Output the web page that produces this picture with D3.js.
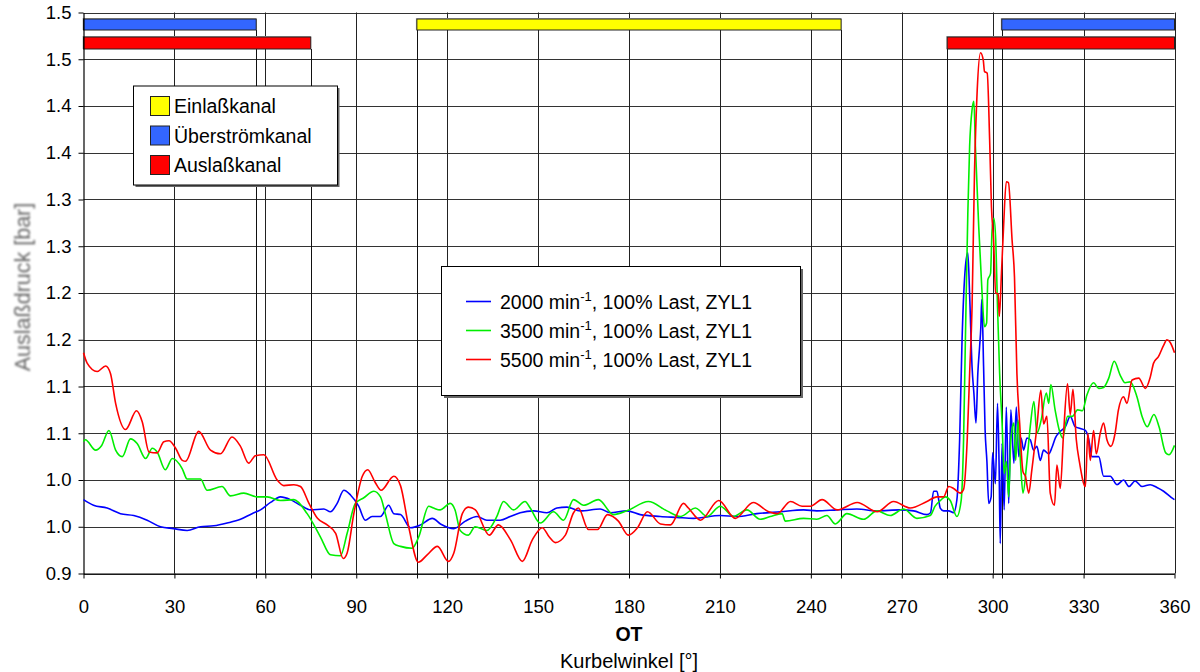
<!DOCTYPE html>
<html>
<head>
<meta charset="utf-8">
<script src="https://cdn.jsdelivr.net/npm/d3@7"></script>
<style>
  body { margin: 0; background: #fff; }
  text { font-family: "Liberation Sans", Arial, sans-serif; }
</style>
</head>
<body>
<svg id="chart" width="1200" height="672"></svg>
<script>
// Kurbelwinkel [°] und Auslaßdruck [bar] je Drehzahl
const kw2000 = [0, 3.3, 7.8, 12.2, 16.6, 21, 25.4, 29.7, 34.2, 38.6, 43, 47.4, 51.8, 55.6, 58.4, 61.7, 65, 68.3, 71.6, 74.9,
  79.3, 81.5, 83.7, 85.9, 88.1, 90.8, 93, 95.2, 98, 100.7, 102.4, 104.6, 107.9, 111.2, 115.1, 117.8, 122.2, 126, 129.9, 133.1,
  137.5, 140.8, 144.1, 148.5, 152.9, 156.2, 159.5, 163.9, 170.5, 173.8, 179.3, 183.7, 190.3, 195.8, 201.3, 210.1, 215.6, 222.2,
  229.9, 237.6, 242, 248.6, 255.2, 261.8, 269.5, 273.9, 278.3, 279.5, 280.5, 281.6, 282.7, 283.8, 285.5, 287.1, 288.2, 289.1,
  289.9, 291, 291.8, 292.4, 293.2, 293.8, 294.5, 295.1, 295.7, 296.1, 296.4, 297, 297.5, 298.1, 298.7, 299.5, 300, 300.9, 301.6,
  302.1, 302.5, 303.1, 303.8, 304.5, 305.3, 306, 307, 307.8, 308.6, 309.4, 310.2, 311.3, 312.4, 313.5, 314.6, 315.7, 316.8,
  318.5, 319.6, 320.7, 322.3, 324, 325.6, 327.2, 328.9, 330.6, 331.6, 332.8, 335, 336.6, 338.8, 341, 343.2, 345, 347, 349.3,
  352, 354.2, 356.4, 359.5, 360];
const p2000 = [0.979, 0.973, 0.970, 0.964, 0.962, 0.957, 0.950, 0.948, 0.946, 0.950, 0.951, 0.954, 0.958, 0.964, 0.968, 0.976,
  0.982, 0.979, 0.973, 0.968, 0.969, 0.966, 0.975, 0.989, 0.984, 0.972, 0.957, 0.961, 0.961, 0.973, 0.964, 0.963, 0.949, 0.952,
  0.959, 0.953, 0.948, 0.956, 0.961, 0.957, 0.957, 0.961, 0.965, 0.967, 0.965, 0.970, 0.971, 0.967, 0.969, 0.965, 0.967, 0.963,
  0.961, 0.960, 0.959, 0.962, 0.961, 0.964, 0.966, 0.968, 0.967, 0.968, 0.969, 0.967, 0.968, 0.967, 0.963, 0.965, 0.988, 0.988,
  0.970, 0.967, 0.967, 0.965, 0.979, 1.043, 1.150, 1.228, 1.243, 1.198, 1.121, 1.093, 1.061, 1.114, 1.143, 1.164, 1.193, 1.122,
  1.054, 1.020, 0.975, 0.982, 1.029, 0.996, 1.082, 1.020, 0.932, 1.039, 0.968, 1.078, 0.975, 1.075, 1.018, 1.078, 1.025, 1.045,
  1.032, 1.045, 1.043, 1.032, 1.036, 1.021, 1.032, 1.028, 1.035, 1.045, 1.052, 1.057, 1.068, 1.057, 1.055, 1.053, 1.045, 1.025,
  1.025, 1.004, 1.004, 0.995, 1.000, 0.993, 0.999, 0.993, 0.995, 0.992, 0.988, 0.980, 0.979];

const kw3500 = [0, 0.6, 4, 6, 8.4, 10.6, 12.8, 15.5, 17.7, 20.5, 22.7, 24.3, 27, 29.3, 32.6, 34.2, 38.6, 40.8, 45.7, 48.5, 52.9,
  57.3, 60.6, 65, 69.4, 73.8, 78.2, 81.5, 84.8, 87, 89.7, 92.5, 95.8, 98, 99.6, 102.4, 104.6, 108.4, 110.6, 113.9, 115.5, 117.7,
  121, 122.6, 124.3, 127, 129.2, 133.1, 136.4, 138.6, 141.9, 145.7, 147.4, 150.7, 155.1, 158.4, 161.7, 165, 169.9, 174.9, 179.3,
  186.4, 192.5, 197, 201.9, 205.8, 210.1, 214.5, 218.9, 223.3, 226.6, 230.5, 231.6, 237.6, 242, 245.3, 248.1, 251.9, 257.4,
  261.8, 266.2, 270.6, 275, 279.4, 281, 282.7, 284.4, 286, 288.2, 289.6, 290.4, 291, 291.8, 292.4, 293.2, 293.8, 294.3, 295.4,
  296.5, 297.3, 298, 298.4, 299.3, 299.8, 300.4, 301, 301.6, 302.3, 303.1, 303.8, 304.5, 305.3, 306, 307, 307.6, 308.4, 309.2,
  310, 311.3, 312.4, 313.6, 314.6, 316, 317.7, 318.5, 319.2, 320.6, 322, 323.1, 324.7, 326.3, 328, 329.6, 331.1, 333.3, 335,
  336.6, 338.3, 340.1, 342.1, 343.7, 345.4, 347.6, 349.3, 351, 353.2, 354.9, 357.1, 358.2, 360];
const p3500 = [1.041, 1.043, 1.032, 1.037, 1.053, 1.032, 1.025, 1.044, 1.039, 1.023, 1.034, 1.030, 1.011, 1.023, 1.012, 1.001,
  1.001, 0.989, 0.993, 0.983, 0.986, 0.982, 0.982, 0.978, 0.979, 0.964, 0.939, 0.920, 0.919, 0.943, 0.975, 0.981, 0.988, 0.982,
  0.964, 0.932, 0.929, 0.927, 0.939, 0.972, 0.970, 0.968, 0.975, 0.968, 0.946, 0.941, 0.950, 0.946, 0.961, 0.977, 0.968, 0.977,
  0.970, 0.954, 0.966, 0.957, 0.979, 0.973, 0.979, 0.963, 0.967, 0.977, 0.967, 0.961, 0.970, 0.961, 0.972, 0.961, 0.968, 0.958,
  0.961, 0.964, 0.956, 0.959, 0.958, 0.962, 0.953, 0.964, 0.958, 0.967, 0.962, 0.969, 0.959, 0.962, 0.972, 0.978, 0.982, 0.978,
  0.961, 0.978, 1.043, 1.150, 1.285, 1.357, 1.396, 1.405, 1.357, 1.271, 1.200, 1.164, 1.168, 1.214, 1.221, 1.267, 1.280, 1.257,
  1.185, 1.114, 1.061, 1.007, 1.020, 0.982, 1.043, 1.061, 1.021, 1.064, 1.018, 0.986, 1.020, 1.057, 1.084, 1.050, 1.064, 1.093,
  1.082, 1.102, 1.075, 1.053, 1.045, 1.068, 1.068, 1.075, 1.074, 1.091, 1.104, 1.098, 1.099, 1.109, 1.127, 1.112, 1.104, 1.105,
  1.089, 1.068, 1.057, 1.070, 1.057, 1.029, 1.027, 1.037];

const kw5500 = [0, 1.2, 4.5, 7.3, 8.9, 10.6, 13.9, 17.5, 19.4, 21.6, 24.3, 26.5, 28.2, 30.4, 32.6, 33.7, 38, 41.9, 45.2, 49, 51.8,
  54.5, 56.7, 59.5, 63.9, 66.1, 69.4, 71.6, 74.4, 77.2, 80.4, 83.2, 85.7, 87, 89.2, 92, 93.8, 96.3, 98.2, 102.4, 104.6, 107.3,
  110.5, 113.4, 116.8, 120.4, 122.2, 125, 127, 129.3, 133.9, 136.9, 140.9, 144.8, 148.1, 151.4, 153.7, 155.7, 159, 161.7, 163.3,
  166.6, 169.6, 172.9, 176.5, 179.8, 182.8, 186.1, 190.4, 193.7, 198, 199.6, 203.6, 209.6, 215.1, 221, 226.1, 228.9, 233.3,
  237.1, 239.9, 243.7, 248.7, 255.3, 261.9, 267.3, 272.8, 278.3, 281.6, 283.8, 285.5, 287.1, 289.3, 290.4, 291.6, 292.4, 293.2,
  294, 294.9, 296, 296.9, 297.3, 298.2, 299, 299.6, 300.3, 301, 301.8, 302.2, 302.9, 303.6, 304.5, 305.2, 306.4, 307.2, 308,
  308.9, 310, 310.8, 311.9, 312.9, 314.6, 315.9, 316.8, 317.9, 319, 320.4, 321.2, 322.3, 323.4, 324.7, 325.6, 326.5, 327.6,
  328.7, 330.6, 331.4, 332.2, 333.3, 334.2, 335.5, 336.6, 337.7, 339, 340.4, 341.5, 343.2, 344.3, 346, 348.2, 350.4, 352, 353.1,
  354.7, 356.4, 357.5, 358.6, 360];
const p5500 = [1.136, 1.125, 1.116, 1.122, 1.114, 1.082, 1.054, 1.074, 1.062, 1.030, 1.029, 1.041, 1.042, 1.034, 1.021, 1.020,
  1.052, 1.032, 1.028, 1.046, 1.036, 1.018, 1.026, 1.027, 1.000, 0.994, 0.995, 0.993, 0.975, 0.959, 0.952, 0.943, 0.916, 0.922,
  0.964, 1.004, 1.011, 0.997, 0.989, 1.004, 0.994, 0.950, 0.912, 0.920, 0.929, 0.913, 0.922, 0.964, 0.971, 0.968, 0.941, 0.952,
  0.936, 0.913, 0.936, 0.949, 0.939, 0.933, 0.941, 0.965, 0.970, 0.947, 0.947, 0.963, 0.956, 0.941, 0.949, 0.966, 0.953, 0.952,
  0.975, 0.970, 0.957, 0.978, 0.959, 0.976, 0.966, 0.964, 0.977, 0.972, 0.972, 0.979, 0.968, 0.976, 0.966, 0.977, 0.970, 0.977,
  0.982, 0.982, 0.993, 0.991, 0.986, 0.990, 1.043, 1.114, 1.185, 1.328, 1.417, 1.457, 1.449, 1.437, 1.435, 1.364, 1.292, 1.257,
  1.200, 1.199, 1.175, 1.221, 1.271, 1.319, 1.318, 1.257, 1.217, 1.114, 1.061, 1.009, 1.004, 0.986, 1.010, 1.057, 1.096, 1.060,
  1.068, 0.986, 0.973, 1.016, 0.991, 1.050, 1.103, 1.070, 1.097, 1.043, 1.018, 0.993, 1.050, 1.021, 1.053, 1.028, 1.050, 1.061,
  1.043, 1.036, 1.050, 1.075, 1.089, 1.082, 1.107, 1.109, 1.098, 1.110, 1.125, 1.132, 1.144, 1.150, 1.147, 1.136];

const seriesLabels = ["2000", "3500", "5500"];
const seriesKw = [kw2000, kw3500, kw5500];
const seriesP = [p2000, p3500, p5500];

// Achsen
const xTicks = [0, 30, 60, 90, 120, 150, 180, 210, 240, 270, 300, 330, 360];
const yTicks = [0.9, 0.95, 1.0, 1.05, 1.1, 1.15, 1.2, 1.25, 1.3, 1.35, 1.4, 1.45, 1.5];
const yTickLabels = ["0.9", "1.0", "1.0", "1.1", "1.1", "1.2", "1.2", "1.3", "1.3", "1.4", "1.4", "1.5", "1.5"];

// Steuerzeiten der Kanäle
const kanalNamen = ["Einlaßkanal", "Überströmkanal", "Auslaßkanal"];
const kanalAuf = [[110], [0, 303], [0, 285]];
const kanalZu = [[250], [57, 360], [75, 360]];

const svg = d3.select("#chart");
const x = d3.scaleLinear().domain([0, 360]).range([83.5, 1174.5]);
const y = d3.scaleLinear().domain([0.9, 1.5]).range([573.5, 12.5]);
const linienFarben = ["#0000ff", "#00ee00", "#ff0000"];
const kanalFarben = ["#ffff00", "#3366ff", "#ff0000"];
const kanalZeile = [0, 0, 1];
const zeileY = [19, 37];
const zeileH = [11, 12];

// Gitter
svg.append("g").selectAll("line")
    .data(yTicks)
    .join("line")
    .attr("x1", x(0)).attr("x2", x(360))
    .attr("y1", d => Math.round(y(d)) + 0.5).attr("y2", d => Math.round(y(d)) + 0.5)
    .attr("stroke", "#333").attr("stroke-width", 1);
svg.append("g").selectAll("line")
    .data(xTicks.slice(1))
    .join("line")
    .attr("x1", d => Math.round(x(d)) + 0.5).attr("x2", d => Math.round(x(d)) + 0.5)
    .attr("y1", y(1.5)).attr("y2", y(0.9))
    .attr("stroke", "#222").attr("stroke-width", 1);

// Kanal-Grenzen
const grenzen = [];
kanalNamen.forEach((n, i) => {
    kanalAuf[i].concat(kanalZu[i]).forEach(w => {
        if (w > 0 && w < 360) grenzen.push({ w: w, top: zeileY[kanalZeile[i]] + zeileH[kanalZeile[i]] });
    });
});
svg.append("g").selectAll("line")
    .data(grenzen)
    .join("line")
    .attr("x1", d => Math.round(x(d.w)) + 0.5).attr("x2", d => Math.round(x(d.w)) + 0.5)
    .attr("y1", d => d.top).attr("y2", y(0.9) + 5)
    .attr("stroke", "#111").attr("stroke-width", 1);

// Balken
const balken = [];
kanalNamen.forEach((n, i) => {
    kanalAuf[i].forEach((a, j) => balken.push({ i: i, a: a, z: kanalZu[i][j] }));
});
const bg = svg.append("g");
bg.selectAll("rect.schatten")
    .data(balken)
    .join("rect")
    .attr("class", "schatten")
    .attr("x", d => x(d.a) - 1).attr("y", d => zeileY[kanalZeile[d.i]] - 1)
    .attr("width", d => x(d.z) - x(d.a) + 1).attr("height", d => zeileH[kanalZeile[d.i]] + 1)
    .attr("fill", "#bbb");
bg.selectAll("rect.balken")
    .data(balken)
    .join("rect")
    .attr("class", "balken")
    .attr("x", d => x(d.a)).attr("y", d => zeileY[kanalZeile[d.i]])
    .attr("width", d => x(d.z) - x(d.a)).attr("height", d => zeileH[kanalZeile[d.i]])
    .attr("fill", d => kanalFarben[d.i])
    .attr("stroke", "#222").attr("stroke-width", 1);

// Achsen
const yAxis = svg.append("g")
    .attr("transform", `translate(${x(0)},0)`)
    .call(d3.axisLeft(y).tickValues(yTicks).tickFormat((d, i) => yTickLabels[i]).tickSize(5).tickSizeOuter(0).tickPadding(7));
const xAxis = svg.append("g")
    .attr("transform", `translate(0,${y(0.9)})`)
    .call(d3.axisBottom(x).tickValues(xTicks).tickSize(5).tickSizeOuter(0).tickPadding(21));
[yAxis, xAxis].forEach(a => {
    a.selectAll("text").style("font-size", "18.5px").attr("fill", "#000").style("font-family", "'Liberation Sans', Arial, sans-serif");
    a.selectAll("line").attr("stroke", "#000");
    a.select(".domain").attr("stroke", "#000").attr("stroke-width", 1.2);
});

// Kurven
const linie = d3.line().x(d => x(d[0])).y(d => y(d[1])).curve(d3.curveMonotoneX);
seriesLabels.forEach((s, i) => {
    const pts = seriesKw[i].map((k, j) => [k, seriesP[i][j]]);
    svg.append("path")
        .datum(pts)
        .attr("d", linie)
        .attr("fill", "none")
        .attr("stroke", linienFarben[i])
        .attr("stroke-width", 1.6)
        .attr("stroke-linejoin", "round");
});

// Legende Kanäle
const leg1 = svg.append("g");
leg1.append("rect").attr("x", 135.5).attr("y", 88).attr("width", 204).attr("height", 99).attr("fill", "#666");
leg1.append("rect").attr("x", 133.5).attr("y", 86).attr("width", 204).attr("height", 99)
    .attr("fill", "#fff").attr("stroke", "#000").attr("stroke-width", 1);
kanalNamen.forEach((n, i) => {
    const cy = 106 + i * 29.5;
    leg1.append("rect").attr("x", 150.5).attr("y", cy - 9.5).attr("width", 19).attr("height", 19)
        .attr("fill", kanalFarben[i]).attr("stroke", "#222").attr("stroke-width", 1);
    leg1.append("text").attr("x", 174).attr("y", cy + 7).style("font-size", "19.5px").text(n);
});

// Legende Kurven
const leg2 = svg.append("g");
leg2.append("rect").attr("x", 444).attr("y", 269).attr("width", 359).attr("height", 129).attr("fill", "#666");
leg2.append("rect").attr("x", 441.5).attr("y", 266.5).attr("width", 359).attr("height", 129)
    .attr("fill", "#fff").attr("stroke", "#000").attr("stroke-width", 1);
seriesLabels.forEach((s, i) => {
    const cy = 301.5 + i * 29;
    leg2.append("line").attr("x1", 466).attr("x2", 491).attr("y1", cy).attr("y2", cy)
        .attr("stroke", linienFarben[i]).attr("stroke-width", 1.6);
    const t = leg2.append("text").attr("x", 500).attr("y", cy + 7).style("font-size", "19.5px");
    t.append("tspan").text(s + " min");
    t.append("tspan").attr("dy", -8).style("font-size", "13px").text("-1");
    t.append("tspan").attr("dy", 8).text(", 100% Last, ZYL1");
});

// Achsentitel
const defs = svg.append("defs");
const f = defs.append("filter").attr("id", "weich").attr("x", "-20%").attr("y", "-20%").attr("width", "140%").attr("height", "140%");
f.append("feGaussianBlur").attr("stdDeviation", 0.8);
svg.append("text")
    .attr("transform", "translate(30,287) rotate(-90)")
    .attr("text-anchor", "middle")
    .attr("fill", "#666")
    .attr("filter", "url(#weich)")
    .style("font-size", "21.5px")
    .text("Auslaßdruck [bar]");
svg.append("text")
    .attr("x", x(180)).attr("y", 641)
    .attr("text-anchor", "middle")
    .style("font-size", "19.5px").style("font-weight", "bold")
    .text("OT");
svg.append("text")
    .attr("x", x(180)).attr("y", 668)
    .attr("text-anchor", "middle")
    .style("font-size", "20px")
    .text("Kurbelwinkel [°]");
</script>
</body>
</html>
